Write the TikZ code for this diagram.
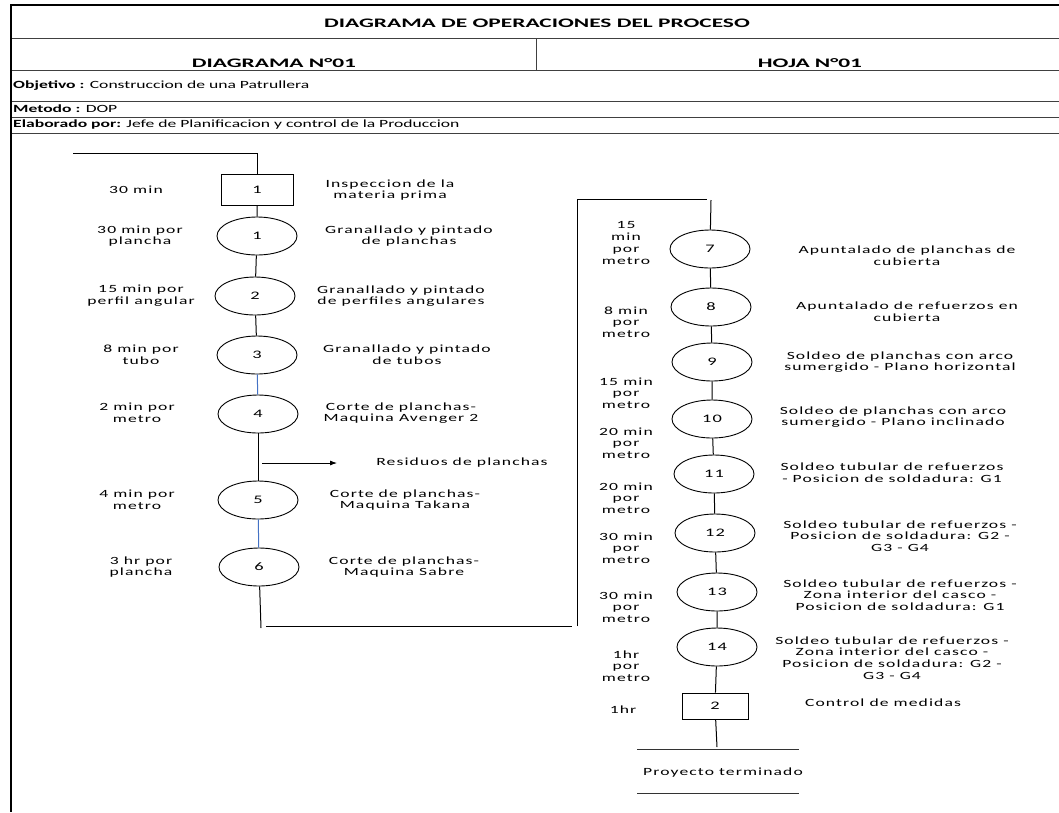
\documentclass[tikz,border=0pt]{standalone}
\usepackage{fontspec}
\setmainfont[FakeStretch=1.6]{Carlito}
\newfontfamily\cabfont[FakeStretch=1.8]{Carlito}
\newfontfamily\espaciada[FakeStretch=1.6,LetterSpace=10]{Carlito}
\usetikzlibrary{shapes.geometric,arrows.meta}
\definecolor{azul}{RGB}{68,114,196}
\tikzset{
  op/.style={ellipse,draw,line width=0.9pt,minimum width=80pt,minimum height=38pt,inner sep=0pt,font=\espaciada\fontsize{11.5}{12}\selectfont},
  insp/.style={rectangle,draw,line width=0.9pt,minimum width=72pt,minimum height=31pt,inner sep=0pt,font=\espaciada\fontsize{11.5}{12}\selectfont},
  tiempo/.style={align=center,inner sep=0pt,font=\espaciada\fontsize{11}{11.7}\selectfont},
  desc/.style={align=center,inner sep=0pt,font=\espaciada\fontsize{11}{11.7}\selectfont},
  cab/.style={inner sep=0pt,font=\cabfont\bfseries\fontsize{13}{14}\selectfont},
  fila/.style={anchor=west,inner sep=0pt,font=\fontsize{11}{12}\selectfont},
  flujo/.style={line width=1pt},
  rejilla/.style={draw=black!75,line width=1pt}
}
\begin{document}
\begin{tikzpicture}[x=1pt,y=-1pt]
\useasboundingbox (0,0) rectangle (1059,812);

%encabezado
\draw[line width=2.6pt] (1059,5) -- (11,5) -- (11,812);
\foreach \y in {38,70,101,117,133} \draw[rejilla] (12,\y) -- (1059,\y);
\draw[rejilla] (536,38) -- (536,70);

\node[cab] (titulo) at (537,23) {DIAGRAMA DE OPERACIONES DEL PROCESO};
\node[cab] (diag) at (274,63) {DIAGRAMA N°01};
\node[cab] (hoja) at (810,63) {HOJA N°01};
\node[fila] (obj) at (13,86) {\textbf{Objetivo :} Construccion de una Patrullera};
\node[fila] (met) at (13,109) {\textbf{Metodo :} DOP};
\node[fila] (elab) at (13,125) {\textbf{Elaborado por:} Jefe de Planificacion y control de la Produccion};

%columna izquierda
\node[insp] (I1) at (257,190) {1};
\node[op] (O1) at (257,236) {1};
\node[op] (O2) at (255,296) {2};
\node[op] (O3) at (257,355) {3};
\node[op] (O4) at (258,414) {4};
\node[op] (O5) at (258,500) {5};
\node[op] (O6) at (259,567) {6};

\node[tiempo] (T1) at (136,190) {30 min};
\node[tiempo] (T2) at (140,236) {30 min por\\plancha};
\node[tiempo] (T3) at (141,296) {15 min por\\perfil angular};
\node[tiempo] (T4) at (141,355) {8 min por\\tubo};
\node[tiempo] (T5) at (137,413) {2 min por\\metro};
\node[tiempo] (T6) at (137,500) {4 min por\\metro};
\node[tiempo] (T7) at (141,567) {3 hr por\\plancha};

\node[desc] (D1) at (390,190) {Inspeccion de la\\materia prima};
\node[desc] (D2) at (409,236) {Granallado y pintado\\de planchas};
\node[desc] (D3) at (401,296) {Granallado y pintado\\de perfiles angulares};
\node[desc] (D4) at (407,355) {Granallado y pintado\\de tubos};
\node[desc] (D5) at (401,413) {Corte de planchas-\\Maquina Avenger 2};
\node[desc] (R1) at (462,463) {Residuos de planchas};
\node[desc] (D6) at (405,500) {Corte de planchas-\\Maquina Takana};
\node[desc] (D7) at (404,567) {Corte de planchas-\\Maquina Sabre};

\coordinate (ini) at (73,153);
\draw[flujo] (ini) -| (I1);
\draw[flujo] (I1) -- (O1) -- (O2) -- (O3);
\draw[flujo,azul] (O3) -- (O4);
\draw[flujo] (O4) -- (O5);
\draw[flujo,azul] (O5) -- (O6);
\coordinate (fin1) at (261,628);
\draw[flujo] (O6) -- (fin1);

\coordinate (r0) at (262,463);
\coordinate (r1) at (337,463);
\draw[line width=0.8pt,-{Latex[length=7pt,width=5pt]}] (r0) -- (r1);

%enlace entre columnas
\coordinate (u1) at (266,626);
\coordinate (u2) at (572,626);
\coordinate (u3) at (577,626);
\coordinate (u4) at (577,199);
\coordinate (u5) at (707,199);
\draw[flujo] (u1) -- (u2);
\draw[flujo] (u3) -- (u4) -- (u5);

%columna derecha
\node[op] (O7) at (710,249) {7};
\node[op] (O8) at (711,307) {8};
\node[op] (O9) at (712,362) {9};
\node[op] (O10) at (712,419) {10};
\node[op] (O11) at (714,474) {11};
\node[op] (O12) at (715,533) {12};
\node[op] (O13) at (717,592) {13};
\node[op] (O14) at (717,647) {14};
\node[insp,minimum width=66pt,minimum height=26pt] (I2) at (715,706) {2};

\node[tiempo] (T8) at (626,243) {15\\min\\por\\metro};
\node[tiempo] (T9) at (626,322) {8 min\\por\\metro};
\node[tiempo] (T10) at (626,393) {15 min\\por\\metro};
\node[tiempo] (T11) at (626,443) {20 min\\por\\metro};
\node[tiempo] (T12) at (626,498) {20 min\\por\\metro};
\node[tiempo] (T13) at (626,548) {30 min\\por\\metro};
\node[tiempo] (T14) at (626,607) {30 min\\por\\metro};
\node[tiempo] (T15) at (626,666) {1hr\\por\\metro};
\node[tiempo] (T16) at (623,710) {1hr};

\node[desc] (D8) at (907,256) {Apuntalado de planchas de\\cubierta};
\node[desc] (D9) at (907,312) {Apuntalado de refuerzos en\\cubierta};
\node[desc] (D10) at (900,362) {Soldeo de planchas con arco\\sumergido - Plano horizontal};
\node[desc] (D11) at (893,417) {Soldeo de planchas con arco\\sumergido - Plano inclinado};
\node[desc] (D12) at (892,473) {Soldeo tubular de refuerzos\\- Posicion de soldadura: G1};
\node[desc] (D13) at (900,536) {Soldeo tubular de refuerzos -\\Posicion de soldadura: G2 -\\G3 - G4};
\node[desc] (D14) at (900,595) {Soldeo tubular de refuerzos -\\Zona interior del casco -\\Posicion de soldadura: G1};
\node[desc] (D15) at (892,658) {Soldeo tubular de refuerzos -\\Zona interior del casco -\\Posicion de soldadura: G2 -\\G3 - G4};
\node[desc] (D16) at (883,703) {Control de medidas};

\coordinate (ini2) at (711,200);
\draw[flujo] (ini2) -- (O7) -- (O8) -- (O9) -- (O10) -- (O11) -- (O12) -- (O13) -- (O14) -- (I2);
\coordinate (fin2) at (717,747);
\draw[flujo] (I2) -- (fin2);

%proyecto terminado
\node[desc] (P) at (723,773) {Proyecto terminado};
\draw[line width=0.8pt,black!80] (637,749) -- (799,749);
\draw[line width=0.8pt,black!80] (637,793) -- (799,793);

\end{tikzpicture}
\end{document}
